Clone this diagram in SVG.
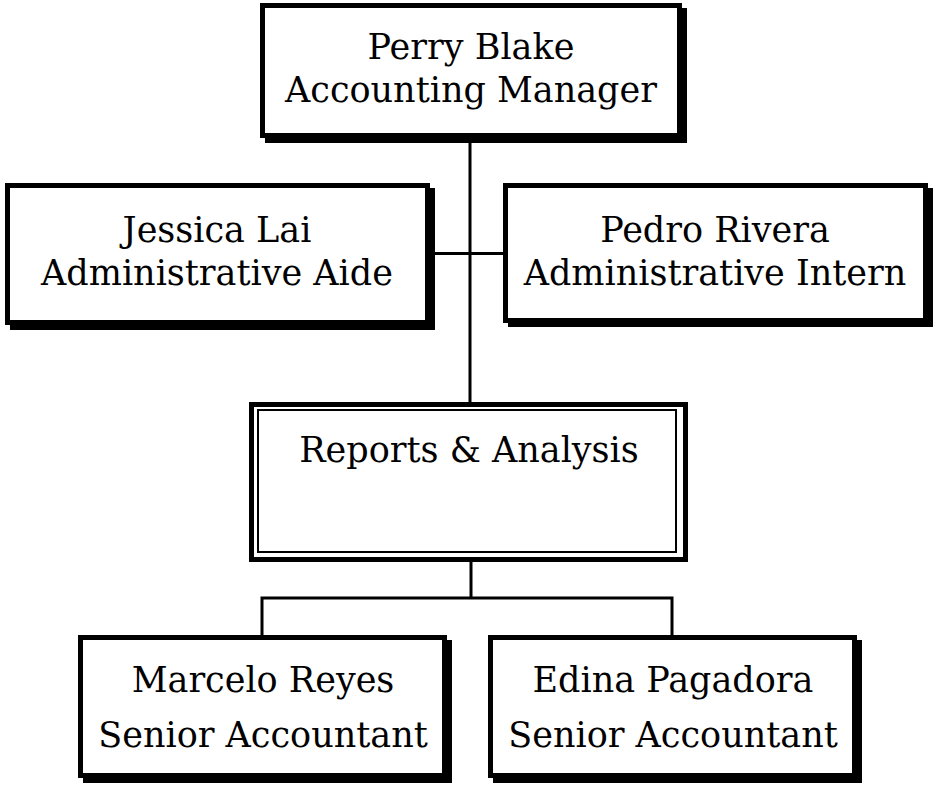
<svg xmlns="http://www.w3.org/2000/svg" width="940" height="790" viewBox="0 0 940 790">
<style>
.box{fill:#fff;stroke:#000;stroke-width:5}
.shadow{fill:#000}
.inner{fill:none;stroke:#000;stroke-width:2}
.lbl{font-family:"DejaVu Serif","Liberation Serif",serif;font-size:35px;fill:#000;text-anchor:middle}
.conn{fill:none;stroke:#000;stroke-width:3}
</style>
<rect width="940" height="790" fill="#fff"/>
<g id="connectors">
<line class="conn" x1="470" y1="138" x2="470" y2="402"/>
<line class="conn" x1="430" y1="253.5" x2="505" y2="253.5"/>
<polyline class="conn" points="471,562 471,598"/>
<polyline class="conn" points="262,635 262,598 672,598 672,635"/>
</g>
<g id="perry">
<rect class="shadow" x="265" y="8" width="422" height="135"/>
<rect class="box" x="262.5" y="5.5" width="417" height="130"/>
<text class="lbl" x="471" y="59">Perry Blake</text>
<text class="lbl" x="471" y="102">Accounting Manager</text>
</g>
<g id="jessica">
<rect class="shadow" x="10" y="188" width="425" height="142"/>
<rect class="box" x="7.5" y="185.5" width="420" height="137"/>
<text class="lbl" x="217" y="242">Jessica Lai</text>
<text class="lbl" x="217" y="285">Administrative Aide</text>
</g>
<g id="pedro">
<rect class="shadow" x="508" y="188" width="425" height="139"/>
<rect class="box" x="505.5" y="185.5" width="420" height="135"/>
<text class="lbl" x="715" y="242">Pedro Rivera</text>
<text class="lbl" x="715" y="285">Administrative Intern</text>
</g>
<g id="reports">
<rect class="box" x="251.5" y="404.5" width="434" height="155"/>
<rect class="inner" x="258" y="410" width="418" height="142"/>
<text class="lbl" x="469" y="462">Reports &amp; Analysis</text>
</g>
<g id="marcelo">
<rect class="shadow" x="83" y="640" width="369" height="143"/>
<rect class="box" x="80.5" y="637.5" width="364" height="138"/>
<text class="lbl" x="263" y="692">Marcelo Reyes</text>
<text class="lbl" x="263" y="747">Senior Accountant</text>
</g>
<g id="edina">
<rect class="shadow" x="493" y="640" width="369" height="143"/>
<rect class="box" x="490.5" y="637.5" width="364" height="138"/>
<text class="lbl" x="673" y="692">Edina Pagadora</text>
<text class="lbl" x="673" y="747">Senior Accountant</text>
</g>
</svg>
